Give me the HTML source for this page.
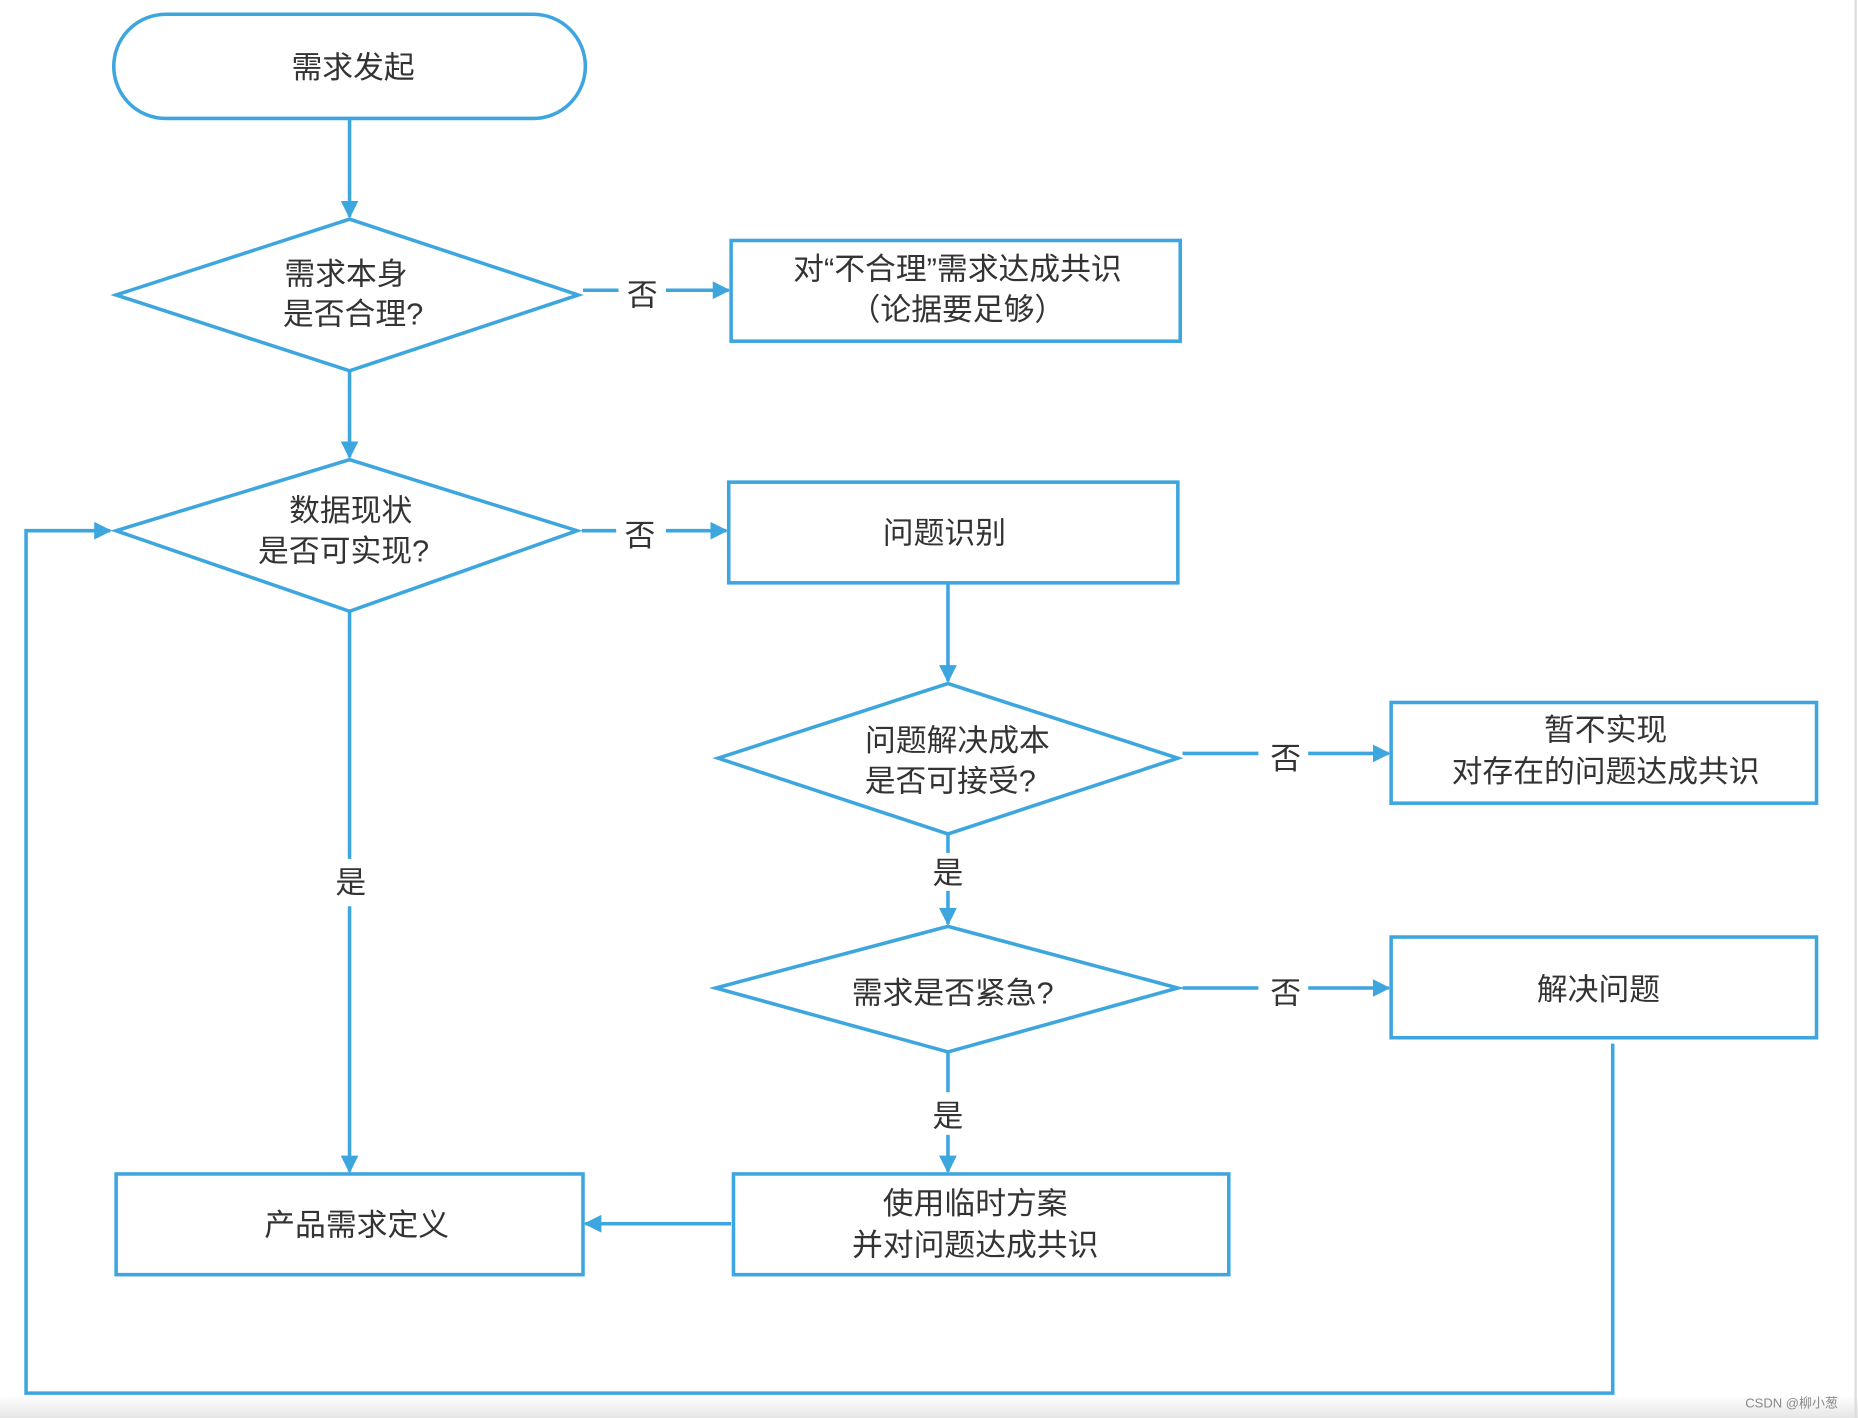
<!DOCTYPE html>
<html><head><meta charset="utf-8"><style>
html,body{margin:0;padding:0;background:#fff;}
svg{display:block}
text{font-family:"Liberation Sans","Noto Sans CJK SC",sans-serif;fill:#333;font-size:26px;text-anchor:middle;}
</style></head><body>
<svg width="1858" height="1418" viewBox="0 0 1568 1197" preserveAspectRatio="none" xmlns="http://www.w3.org/2000/svg">
<defs>
<marker id="a" viewBox="0 0 10 10" refX="9" refY="5" markerWidth="5" markerHeight="5" orient="auto"><path d="M0,0L10,5L0,10z" fill="#3ea6de"/></marker>
<linearGradient id="g" x1="0" y1="0" x2="0" y2="1"><stop offset="0" stop-color="#fff"/><stop offset="1" stop-color="#e6e6e6"/></linearGradient>
</defs>
<rect x="0" y="1178" width="1568" height="19" fill="url(#g)"/>
<line x1="1566" y1="0" x2="1566" y2="1197" stroke="#ddd" stroke-width="2"/>
<g fill="none" stroke="#3ea6de" stroke-width="3">
<rect x="96" y="12" width="398" height="88" rx="44"/>
<polygon points="98,249 295,185 488,249 295,313"/>
<rect x="617" y="203" width="379" height="85"/>
<polygon points="98,448 295,388 487,448 295,516"/>
<rect x="615" y="407" width="379" height="85"/>
<polygon points="606,640 800,577 994,640 800,704"/>
<rect x="1174" y="593" width="359" height="85"/>
<polygon points="604,834 800,782 994,834 800,888"/>
<rect x="1174" y="791" width="359" height="85"/>
<rect x="98" y="991" width="394" height="85"/>
<rect x="619" y="991" width="418" height="85"/>
</g>
<g fill="none" stroke="#3ea6de" stroke-width="3" marker-end="url(#a)">
<line x1="295" y1="100" x2="295" y2="183"/>
<line x1="295" y1="313" x2="295" y2="386"/>
<line x1="295" y1="516" x2="295" y2="725" marker-end="none"/>
<line x1="295" y1="765" x2="295" y2="989"/>
<line x1="492" y1="245" x2="522" y2="245" marker-end="none"/>
<line x1="562" y1="245" x2="615" y2="245"/>
<line x1="491" y1="448" x2="520" y2="448" marker-end="none"/>
<line x1="562" y1="448" x2="613" y2="448"/>
<line x1="800" y1="492" x2="800" y2="575"/>
<line x1="800" y1="704" x2="800" y2="720" marker-end="none"/>
<line x1="800" y1="752" x2="800" y2="780"/>
<line x1="998" y1="636" x2="1062" y2="636" marker-end="none"/>
<line x1="1104" y1="636" x2="1172" y2="636"/>
<line x1="998" y1="834" x2="1062" y2="834" marker-end="none"/>
<line x1="1104" y1="834" x2="1172" y2="834"/>
<line x1="800" y1="888" x2="800" y2="922" marker-end="none"/>
<line x1="800" y1="958" x2="800" y2="989"/>
<line x1="617" y1="1033" x2="494" y2="1033"/>
<polyline points="1361,881 1361,1176 22,1176 22,448 93,448"/>
</g>
<text x="298" y="66">需求发起</text>
<text x="292" y="240">需求本身</text>
<text x="298" y="274">是否合理?</text>
<text x="808" y="236">对“不合理”需求达成共识</text>
<text x="808" y="270">（论据要足够）</text>
<text x="542" y="258">否</text>
<text x="296" y="440">数据现状</text>
<text x="290" y="474">是否可实现?</text>
<text x="540" y="461">否</text>
<text x="797" y="459">问题识别</text>
<text x="808" y="634">问题解决成本</text>
<text x="802" y="668">是否可接受?</text>
<text x="1085" y="649">否</text>
<text x="1355" y="625">暂不实现</text>
<text x="1355" y="660">对存在的问题达成共识</text>
<text x="800" y="746">是</text>
<text x="804" y="847">需求是否紧急?</text>
<text x="1085" y="847">否</text>
<text x="1349" y="844">解决问题</text>
<text x="800" y="951">是</text>
<text x="296" y="754">是</text>
<text x="301" y="1043">产品需求定义</text>
<text x="823" y="1025">使用临时方案</text>
<text x="823" y="1060">并对问题达成共识</text>
<text x="1512" y="1188" style="font-size:11px;fill:#888">CSDN @柳小葱</text>
</svg>
</body></html>
